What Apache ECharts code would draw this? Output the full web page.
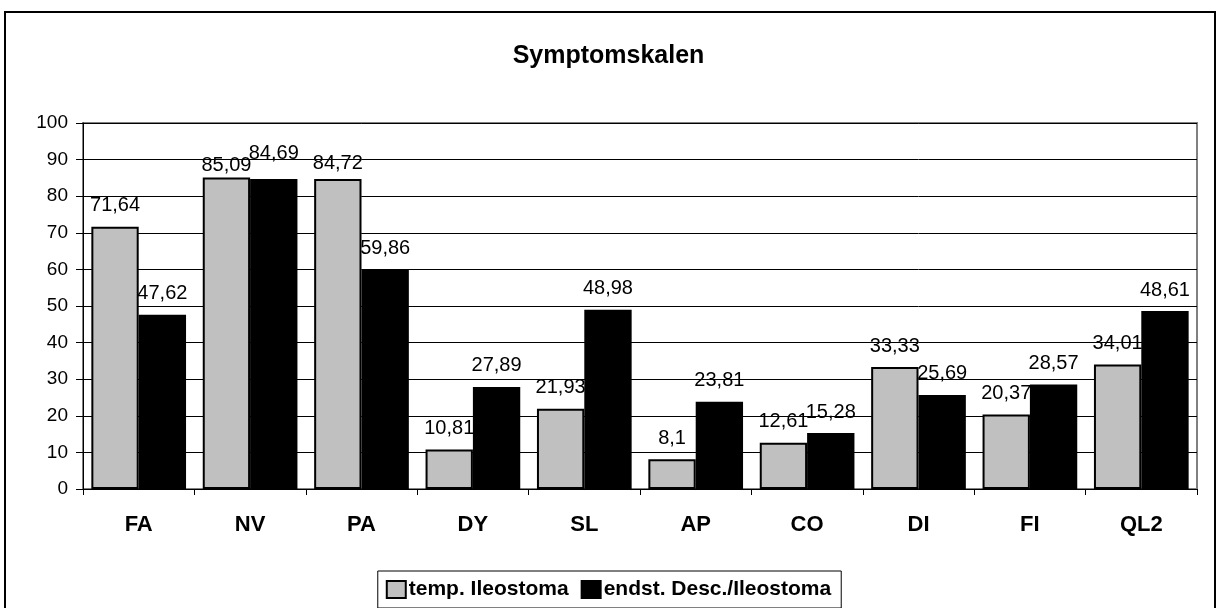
<!DOCTYPE html>
<html>
<head>
<meta charset="utf-8">
<script src="https://cdn.jsdelivr.net/npm/echarts@6/dist/echarts.min.js"></script>
<style>
  html, body { margin: 0; padding: 0; background: #fff; }
  #chart { width: 1217px; height: 608px; }
</style>
</head>
<body>
<div id="chart"></div>
<script>
// Daten
var categories = ['FA', 'NV', 'PA', 'DY', 'SL', 'AP', 'CO', 'DI', 'FI', 'QL2'];
var tempIleostoma = [71.64, 85.09, 84.72, 10.81, 21.93, 8.1, 12.61, 33.33, 20.37, 34.01];
var endstDesc = [47.62, 84.69, 59.86, 27.89, 48.98, 23.81, 15.28, 25.69, 28.57, 48.61];
var seriesNames = ['temp. Ileostoma', 'endst. Desc./Ileostoma'];

// Abstand der Beschriftung, wo Excel sie verschoben hat (Index -> px)
var labelDistTemp = { 1: 2, 2: 5 };
var labelDistEndst = { 1: 16 };

var chart = echarts.init(document.getElementById('chart'));

function komma(p) {
    return String(p.value).replace('.', ',');
}

function withLabels(values, dist) {
    return values.map(function (v, i) {
        if (dist[i] === undefined) return v;
        return { value: v, label: { distance: dist[i] } };
    });
}

var labelStyle = {
    show: true,
    position: 'top',
    distance: 11,
    color: '#000',
    fontSize: 20,
    fontFamily: 'Liberation Sans, Arial',
    formatter: komma
};

var option = {
    animation: false,
    backgroundColor: '#fff',
    textStyle: { fontFamily: 'Liberation Sans, Arial' },
    title: {
        text: 'Symptomskalen',
        left: 'center',
        top: 39,
        textStyle: { fontSize: 25, fontWeight: 'bold', color: '#000' }
    },
    graphic: [{
        type: 'rect',
        shape: { x: 5, y: 12, width: 1210, height: 620 },
        style: { fill: 'none', stroke: '#000', lineWidth: 2 },
        silent: true
    }],
    legend: {
        top: 571,
        left: 'center',
        icon: 'rect',
        itemWidth: 19,
        itemHeight: 17,
        itemGap: 12,
        padding: [8, 10, 8, 8],
        borderColor: '#000',
        borderWidth: 1,
        textStyle: { fontSize: 21, fontWeight: 'bold', color: '#000', padding: [0, 0, 0, -2] },
        data: seriesNames
    },
    grid: {
        left: 83,
        right: 20,
        top: 123,
        bottom: 119,
        show: true,
        borderColor: '#808080',
        borderWidth: 2
    },
    xAxis: {
        type: 'category',
        data: categories,
        axisLine: { lineStyle: { color: '#000', width: 1 } },
        axisTick: { show: true, length: 6, lineStyle: { color: '#000' } },
        axisLabel: { fontSize: 22, fontWeight: 'bold', color: '#000', margin: 25 }
    },
    yAxis: {
        type: 'value',
        min: 0,
        max: 100,
        interval: 10,
        axisLine: { show: true, lineStyle: { color: '#000' } },
        axisTick: { show: true, length: 7, lineStyle: { color: '#000' } },
        axisLabel: { fontSize: 19, color: '#000', margin: 15 },
        splitLine: { lineStyle: { color: '#000', width: 1 } }
    },
    series: [{
        name: seriesNames[0],
        type: 'bar',
        data: withLabels(tempIleostoma, labelDistTemp),
        barGap: '0%',
        barCategoryGap: '15%',
        itemStyle: { color: '#c0c0c0', borderColor: '#000', borderWidth: 2 },
        label: labelStyle
    }, {
        name: seriesNames[1],
        type: 'bar',
        data: withLabels(endstDesc, labelDistEndst),
        barGap: '0%',
        barCategoryGap: '15%',
        itemStyle: { color: '#000', borderColor: '#000', borderWidth: 2 },
        label: labelStyle
    }]
};

chart.setOption(option);
</script>
</body>
</html>
